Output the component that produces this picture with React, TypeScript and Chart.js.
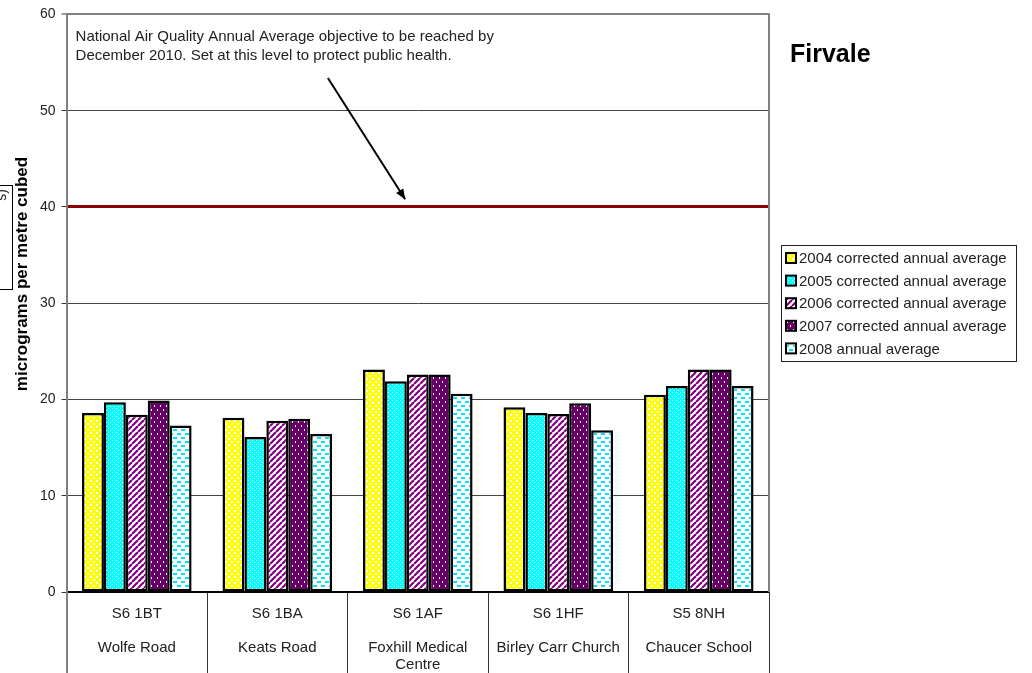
import React, { useEffect, useRef } from "react";
import { Chart, registerables } from "chart.js";

Chart.register(...registerables);

// ---------- data ----------
const siteCodes = ["S6 1BT", "S6 1BA", "S6 1AF", "S6 1HF", "S5 8NH"];
const siteNames = [["Wolfe Road"], ["Keats Road"], ["Foxhill Medical", "Centre"], ["Birley Carr Church"], ["Chaucer School"]];
const seriesLabels = [
  "2004 corrected annual average",
  "2005 corrected annual average",
  "2006 corrected annual average",
  "2007 corrected annual average",
  "2008 annual average",
];
const values2004 = [18.6, 18.1, 23.1, 19.2, 20.5];
const values2005 = [19.7, 16.1, 21.9, 18.6, 21.4];
const values2006 = [18.4, 17.8, 22.6, 18.5, 23.1];
const values2007 = [19.9, 18.0, 22.6, 19.6, 23.1];
const values2008 = [17.3, 16.4, 20.6, 16.8, 21.4];
const objectiveValue = 40;
const yMin = 0;
const yMax = 60;
const yStep = 10;
const chartTitle = "Firvale";
const yAxisTitle = "micrograms per metre cubed";
const clippedBoxText = "s)";
const annotationLines = [
  "National Air Quality Annual Average objective to be reached by",
  "December 2010. Set at this level to protect public health.",
];

const FONT = '"Liberation Sans", Arial, sans-serif';
const LABEL_LINES = 8;

function makePattern(w: number, h: number, draw: (g: CanvasRenderingContext2D) => void) {
  const c = document.createElement("canvas");
  c.width = w;
  c.height = h;
  const g = c.getContext("2d")!;
  draw(g);
  return g.createPattern(c, "repeat")!;
}

function buildPatterns() {
  const p2004 = makePattern(6, 6, (g) => {
    g.fillStyle = "#FFFF00";
    g.fillRect(0, 0, 6, 6);
    g.fillStyle = "#FFFFFF";
    g.fillRect(0, 0, 2, 2);
    g.fillRect(3, 3, 2, 2);
  });
  const p2005 = makePattern(4, 4, (g) => {
    g.fillStyle = "#00FFFF";
    g.fillRect(0, 0, 4, 4);
    g.fillStyle = "#FFFFFF";
    g.fillRect(0, 0, 1, 1);
    g.fillRect(2, 2, 1, 1);
  });
  const p2006 = makePattern(6, 6, (g) => {
    g.fillStyle = "#FFFFFF";
    g.fillRect(0, 0, 6, 6);
    g.strokeStyle = "#800080";
    g.lineWidth = 2.2;
    for (const off of [-6, 0, 6]) {
      g.beginPath();
      g.moveTo(off, 6);
      g.lineTo(off + 6, 0);
      g.stroke();
    }
  });
  const p2007 = makePattern(6, 8, (g) => {
    g.fillStyle = "#660066";
    g.fillRect(0, 0, 6, 8);
    g.fillStyle = "#FFFFFF";
    g.fillRect(1, 1, 1, 2);
    g.fillRect(4, 5, 1, 2);
  });
  const p2008 = makePattern(8, 8, (g) => {
    g.fillStyle = "#FFFFFF";
    g.fillRect(0, 0, 8, 8);
    g.fillStyle = "#00E5FF";
    g.fillRect(1, 1, 4, 2);
    g.fillRect(5, 5, 4, 2);
    g.fillRect(-3, 5, 4, 2);
  });
  return [p2004, p2005, p2006, p2007, p2008];
}

const decorPlugin = {
  id: "decor",
  afterDraw(chart: any) {
    const { ctx, chartArea, scales } = chart;
    const xs = scales.x;
    const ys = scales.y;
    ctx.save();

    // right border of plot area
    ctx.strokeStyle = "#808080";
    ctx.lineWidth = 2;
    ctx.beginPath();
    ctx.moveTo(chartArea.right, chartArea.top - 1);
    ctx.lineTo(chartArea.right, chartArea.bottom);
    ctx.stroke();

    // title
    ctx.fillStyle = "#000";
    ctx.font = `bold 25px ${FONT}`;
    ctx.textBaseline = "middle";
    ctx.textAlign = "left";
    ctx.fillText(chartTitle, 790, 55);

    // annotation text
    ctx.font = `15px ${FONT}`;
    ctx.fillStyle = "#222";
    annotationLines.forEach((t, i) => {
      ctx.fillText(t, chartArea.left + 9, 37 + i * 19);
    });

    // arrow
    const x1 = xs.getPixelForValue(1.36);
    const y1 = ys.getPixelForValue(53.4);
    const x2 = xs.getPixelForValue(1.91);
    const y2 = ys.getPixelForValue(40.8);
    ctx.strokeStyle = "#000";
    ctx.lineWidth = 2;
    ctx.beginPath();
    ctx.moveTo(x1, y1);
    ctx.lineTo(x2, y2);
    ctx.stroke();
    const ang = Math.atan2(y2 - y1, x2 - x1);
    const ah = 11;
    ctx.fillStyle = "#000";
    ctx.beginPath();
    ctx.moveTo(x2, y2);
    ctx.lineTo(x2 - ah * Math.cos(ang - 0.4), y2 - ah * Math.sin(ang - 0.4));
    ctx.lineTo(x2 - ah * Math.cos(ang + 0.4), y2 - ah * Math.sin(ang + 0.4));
    ctx.closePath();
    ctx.fill();

    // y axis title
    ctx.save();
    ctx.translate(22, 274);
    ctx.rotate(-Math.PI / 2);
    ctx.font = `bold 17px ${FONT}`;
    ctx.fillStyle = "#000";
    ctx.textAlign = "center";
    ctx.textBaseline = "middle";
    ctx.fillText(yAxisTitle, 0, 0);
    ctx.restore();

    // clipped text box at far left
    ctx.save();
    ctx.strokeStyle = "#000";
    ctx.lineWidth = 1;
    ctx.strokeRect(-1, 185.5, 13.5, 104);
    ctx.beginPath();
    ctx.rect(0, 186, 12, 103);
    ctx.clip();
    ctx.translate(2, 188);
    ctx.rotate(-Math.PI / 2);
    ctx.font = `14px ${FONT}`;
    ctx.fillStyle = "#222";
    ctx.textAlign = "right";
    ctx.textBaseline = "middle";
    ctx.fillText(clippedBoxText, -1, 0);
    ctx.restore();

    // legend
    const lx = 781, ly = 245, lw = 235, lh = 116;
    ctx.fillStyle = "#fff";
    ctx.fillRect(lx, ly, lw, lh);
    ctx.strokeStyle = "#222";
    ctx.lineWidth = 1;
    ctx.strokeRect(lx + 0.5, ly + 0.5, lw, lh);
    chart.data.datasets.forEach((d: any, i: number) => {
      const cy = 258 + i * 22.6;
      ctx.fillStyle = d.backgroundColor;
      ctx.fillRect(786, cy - 5, 10, 10);
      ctx.strokeStyle = "#000";
      ctx.lineWidth = 2;
      ctx.strokeRect(786, cy - 5, 10, 10);
      ctx.fillStyle = "#222";
      ctx.font = `15px ${FONT}`;
      ctx.textAlign = "left";
      ctx.textBaseline = "middle";
      ctx.fillText(d.label, 799, cy + 1);
    });

    ctx.restore();
  },
};

export default function App() {
  const ref = useRef<HTMLCanvasElement>(null);

  useEffect(() => {
    if (!ref.current) return;
    Chart.defaults.font.family = FONT;
    const patterns = buildPatterns();
    const seriesValues = [values2004, values2005, values2006, values2007, values2008];
    const labels = siteCodes.map((c, i) => {
      const lines = [c, "", ...siteNames[i]];
      while (lines.length < LABEL_LINES) lines.push("");
      return lines;
    });

    const datasets = seriesValues.map((vals, i) => ({
      label: seriesLabels[i],
      data: vals,
      backgroundColor: patterns[i],
      borderColor: "#000",
      borderWidth: 2.5,
      borderSkipped: false as any,
      categoryPercentage: 0.78,
      barPercentage: 1.0,
    }));

    const isVal = (c: any, v: number) => c.tick && c.tick.value === v;

    const chart = new Chart(ref.current, {
      type: "bar",
      data: { labels, datasets },
      options: {
        animation: false,
        responsive: false,
        devicePixelRatio: 1,
        events: [],
        layout: { padding: { left: 34, right: 263, top: 13, bottom: 0 } },
        plugins: {
          legend: { display: false },
          tooltip: { enabled: false },
          title: { display: false },
        },
        scales: {
          x: {
            type: "category",
            offset: true,
            grid: {
              offset: true,
              drawOnChartArea: false,
              drawTicks: true,
              tickLength: 81,
              color: (c: any) => (c.index === 0 ? "#808080" : "#333"),
              lineWidth: (c: any) => (c.index === 0 ? 2 : 1),
            },
            border: { display: true, color: "#000", width: 1.5 },
            ticks: {
              font: { size: 15, lineHeight: 17 / 15 },
              color: "#222",
              padding: -68,
              maxRotation: 0,
              minRotation: 0,
              autoSkip: false,
            },
          },
          y: {
            type: "linear",
            min: yMin,
            max: yMax,
            ticks: { stepSize: yStep, font: { size: 14 }, color: "#222", padding: 6 },
            grid: {
              color: (c: any) =>
                isVal(c, objectiveValue)
                  ? "#8B0000"
                  : isVal(c, yMax)
                  ? "#808080"
                  : isVal(c, yMin)
                  ? "#000"
                  : "#444",
              lineWidth: (c: any) => (isVal(c, objectiveValue) ? 3 : isVal(c, yMax) ? 2 : 1),
              tickColor: "#333",
              tickWidth: 1,
              tickLength: 5,
            },
            border: { color: "#808080", width: 2 },
          },
        },
      },
      plugins: [decorPlugin],
    } as any);

    return () => chart.destroy();
  }, []);

  return (
    <div style={{ position: "absolute", left: 0, top: 0, width: 1032, height: 673, background: "#fff" }}>
      <canvas ref={ref} width={1032} height={673} style={{ display: "block" }} />
    </div>
  );
}
